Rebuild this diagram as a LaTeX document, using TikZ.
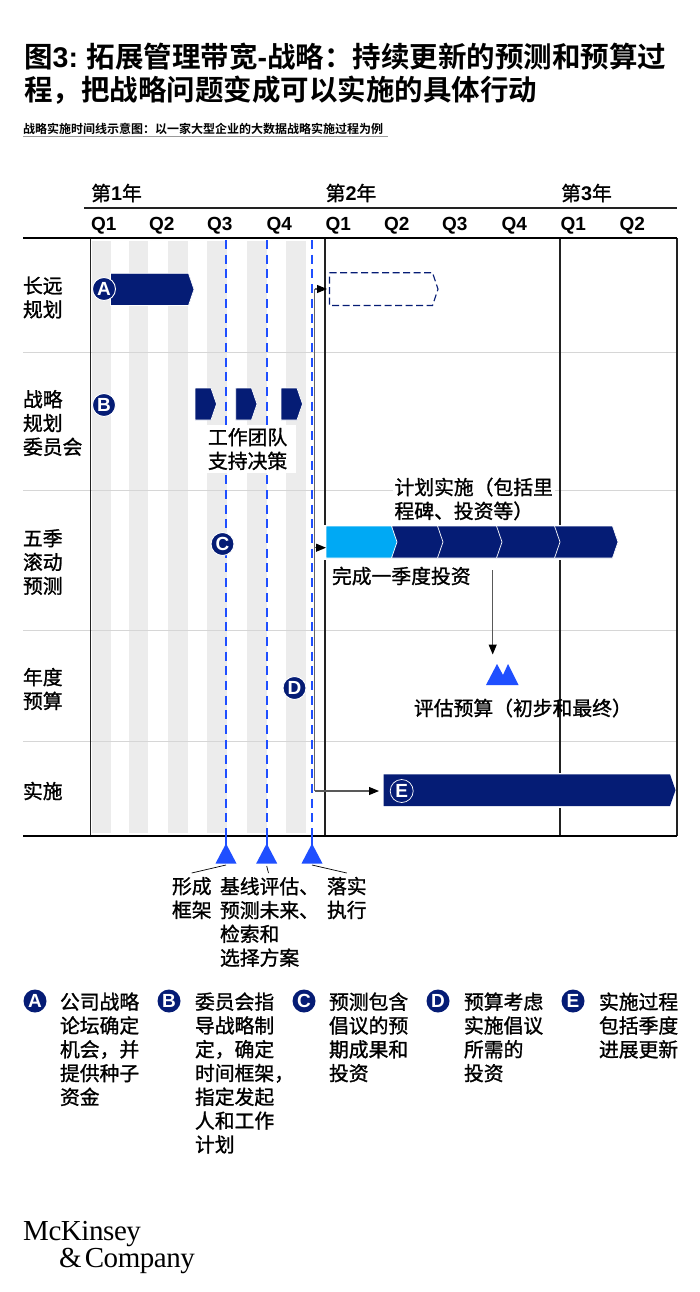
\documentclass[tikz,border=0pt]{standalone}
\usepackage{fontspec}
\setmainfont{Liberation Sans}
\newfontfamily\cjk[FakeBold=1.2]{Noto Sans CJK SC}
\newfontfamily\cjkb{Noto Sans CJK SC Bold}
\newfontfamily\lat{Liberation Sans}
\newfontfamily\logofont[LetterSpace=-1.5]{Liberation Serif}
\usetikzlibrary{arrows.meta,calc}
\definecolor{navy}{HTML}{051C75}
\definecolor{bluex}{HTML}{1F4FFF}
\definecolor{skyx}{HTML}{00A9F4}
\definecolor{stripe}{HTML}{ECECEC}
\definecolor{rowline}{HTML}{D6D6D6}
\definecolor{axis}{HTML}{222222}
\tikzset{
  x=1pt,y=-1pt,
  txt/.style={inner sep=0pt,outer sep=0pt,anchor=west,align=left,text=black,font=\cjk\fontsize{19.8}{23.8}\selectfont},
  year/.style={inner sep=0pt,anchor=west,font=\cjk\fontsize{19.8}{24}\selectfont},
  qtr/.style={inner sep=0pt,anchor=west,font=\lat\bfseries\fontsize{19}{24}\selectfont},
  badge/.style={circle,fill=navy,draw=white,line width=0.9pt,minimum size=23pt,inner sep=0pt,text=white,font=\lat\bfseries\fontsize{19}{19}\selectfont},
  phase/.style={fill=navy,draw=white,line width=0.7pt},
  conn/.style={draw=black!65,line width=1.1pt,-{Triangle[length=10pt,width=8pt,black]}},
  tick/.style={draw=black,line width=0.7pt},
  mile/.style={dash pattern=on 9pt off 5.7pt,draw=bluex,line width=2pt},
  tri/.style={fill=bluex,draw=none},
  logotxt/.style={inner sep=0pt,anchor=base west,font=\logofont\fontsize{29}{29}\selectfont},
}
\newcommand{\phasebar}[6]{% name, x1, x2, y1, y2, style
  \path[#6] (#2,#4) -- (#3-5.5,#4) -- (#3,{(#4+#5)/2}) -- (#3-5.5,#5) -- (#2,#5) -- cycle;
  \coordinate (#1) at (#2,{(#4+#5)/2});
}
\newcommand{\bluetri}[3]{% name, x, apex y
  \path[tri] (#2,#3) -- (#2+10.5,#3+20) -- (#2-10.5,#3+20) -- cycle;
  \coordinate (#1) at (#2,#3);
}
\begin{document}
\begin{tikzpicture}
\useasboundingbox (0,0) rectangle (700,1292);
\fill[white] (0,0) rectangle (700,1292);
% titles
\node[inner sep=0pt,anchor=west,align=left,font=\cjkb\fontsize{28.5}{33}\selectfont] (title) at (24,74) {图{\lat\bfseries 3:} 拓展管理带宽{\lat\bfseries -}战略：持续更新的预测和预算过\\程，把战略问题变成可以实施的具体行动};
\node[inner sep=0pt,anchor=west,font=\cjkb\fontsize{12}{14}\selectfont] (sub) at (23,129) {战略实施时间线示意图：以一家大型企业的大数据战略实施过程为例};
\draw[black!40,line width=1.5pt] (23,136.7) -- (388,136.7);
% stripes
\foreach \a/\b in {92/110.5,129/148,167.5/187.5,207/226.5,247/266.5,286/306}
  \fill[stripe] (\a,241) rectangle (\b,833);
% row lines
\foreach \y in {352.5,490.5,630.5,741.5}
  \draw[rowline,line width=1pt] (23,\y) -- (677,\y);
% vertical axes
\foreach \x in {90.5,325,560,677}
  \draw[axis,line width=1.1pt] (\x,238) -- (\x,836);
% header rules
\draw[axis,line width=1.1pt] (84,208) -- (677,208);
\draw[black,line width=1.8pt] (23,238) -- (677,238);
\draw[black,line width=1.8pt] (23,836) -- (677,836);
% years and quarters
\node[year] (y1) at (91,193) {第{\lat\bfseries 1}年};
\node[year] (y2) at (325.5,193) {第{\lat\bfseries 2}年};
\node[year] (y3) at (561,193) {第{\lat\bfseries 3}年};
\foreach \n/\x/\t in {a/91/Q1,b/149/Q2,c/207/Q3,d/266.5/Q4,e/325.5/Q1,f/384/Q2,g/442/Q3,h/501.5/Q4,i/560.5/Q1,j/619.5/Q2}
  \node[qtr] (q\n) at (\x,225.5) {\t};
% row labels
\node[txt] (r1) at (23,297.5) {长远\\规划};
\node[txt] (r2) at (23,423) {战略\\规划\\委员会};
\node[txt] (r3) at (23,562) {五季\\滚动\\预测};
\node[txt] (r4) at (23,689) {年度\\预算};
\node[txt] (r5) at (23,791) {实施};
% milestone lines
\foreach \n/\x in {m1/226,m2/266.7,m3/312}{
  \draw[mile] (\x,240) -- (\x,836);
  \draw[bluex,line width=2pt] (\x,836) -- (\x,846);
  \bluetri{\n}{\x}{843.5}
}
% bars
\phasebar{barA}{110.5}{194}{273.3}{305.5}{phase}
\phasebar{chev1}{195}{216.5}{388}{420}{phase}
\phasebar{chev2}{235.7}{257}{388}{420}{phase}
\phasebar{chev3}{281}{302.5}{388}{420}{phase}
\phasebar{barDash}{329.5}{438}{272.7}{305.5}{draw=navy,line width=1.1pt,dash pattern=on 7pt off 3.5pt}
\fill[white] (323,524.5) rectangle (327,559.5);
\fill[white] (558,524.5) rectangle (562,559.5);
\phasebar{seg5}{554}{618}{526}{558}{phase}
\phasebar{seg4}{496}{560}{526}{558}{phase}
\phasebar{seg3}{437}{502}{526}{558}{phase}
\phasebar{seg2}{391.7}{443}{526}{558}{phase}
\phasebar{seg1}{326}{397}{526}{558}{fill=skyx,draw=white,line width=0.7pt}
\fill[white] (558,772.5) rectangle (562,808);
\phasebar{barE}{383.7}{675.5}{774.3}{806}{fill=navy,draw=none}
% connectors
\coordinate (spineTop) at (314.5,289);
\coordinate (spineBot) at (314.5,791);
\coordinate (dashIn) at (327,289);
\coordinate (segIn) at (326,547.7);
\coordinate (segOut) at (314.5,547.7);
\coordinate (eIn) at (379,791);
\draw[black!60,line width=1.1pt] (spineTop) -- (spineBot);
\draw[conn] (spineTop) -- (dashIn);
\draw[conn] (segOut) -- (segIn);
\draw[conn] (spineBot) -- (eIn);
% double triangle and arrow
\path[tri] (497,664) -- (503,675) -- (508,664) -- (518.5,685) -- (486,685) -- cycle;
\coordinate (dbl) at (492.7,654.5);
\coordinate (dblTop) at (492.7,570);
\draw[conn] (dblTop) -- (dbl);
% text on bars
\fill[white] (207,425) rectangle (296,473);
\fill[white] (393,476) rectangle (555,522);
\node[txt] (team) at (208,449) {工作团队\\支持决策};
\node[txt] (plan) at (394.5,499) {计划实施（包括里\\程碑、投资等）};
\node[txt] (done) at (332,576) {完成一季度投资};
\node[txt] (eval) at (414,708) {评估预算（初步和最终）};
% badges
\node[badge] (A) at (104,289) {A};
\node[badge] (B) at (104,405) {B};
\node[badge] (C) at (222.5,544) {C};
\node[badge] (D) at (294.5,688) {D};
\node[badge,draw=white,line width=0.7pt] (E) at (401.7,791) {E};
% milestone labels
\node[txt] (l1) at (172,898) {形成\\框架};
\node[txt] (l2) at (220,922) {基线评估、\\预测未来、\\检索和\\选择方案};
\node[txt] (l3) at (327,898) {落实\\执行};
\coordinate (t1) at (191.7,873); \coordinate (t2) at (268.5,873); \coordinate (t3) at (346.7,873);
\draw[tick] (226,865) -- (t1);
\draw[tick] (266.7,866) -- (t2);
\draw[tick] (312,865) -- (t3);
% legend
\tikzset{lbadge/.style={badge,draw=none}}
\node[lbadge] (LA) at (35,1001) {A};
\node[lbadge] (LB) at (169,1001) {B};
\node[lbadge] (LC) at (304,1001) {C};
\node[lbadge] (LD) at (438,1001) {D};
\node[lbadge] (LE) at (573,1001) {E};
\node[txt,anchor=north west] (TA) at (60,992.5) {公司战略\\论坛确定\\机会，并\\提供种子\\资金};
\node[txt,anchor=north west] (TB) at (195,992.5) {委员会指\\导战略制\\定，确定\\时间框架，\\指定发起\\人和工作\\计划};
\node[txt,anchor=north west] (TC) at (329,992.5) {预测包含\\倡议的预\\期成果和\\投资};
\node[txt,anchor=north west] (TD) at (464,992.5) {预算考虑\\实施倡议\\所需的\\投资};
\node[txt,anchor=north west] (TE) at (599,992.5) {实施过程\\包括季度\\进展更新};
% logo
\node[logotxt] (logo1) at (23,1240) {McKinsey};
\node[logotxt] (logo2) at (59,1267) {\&\hspace{3pt}Company};
\end{tikzpicture}
\end{document}
